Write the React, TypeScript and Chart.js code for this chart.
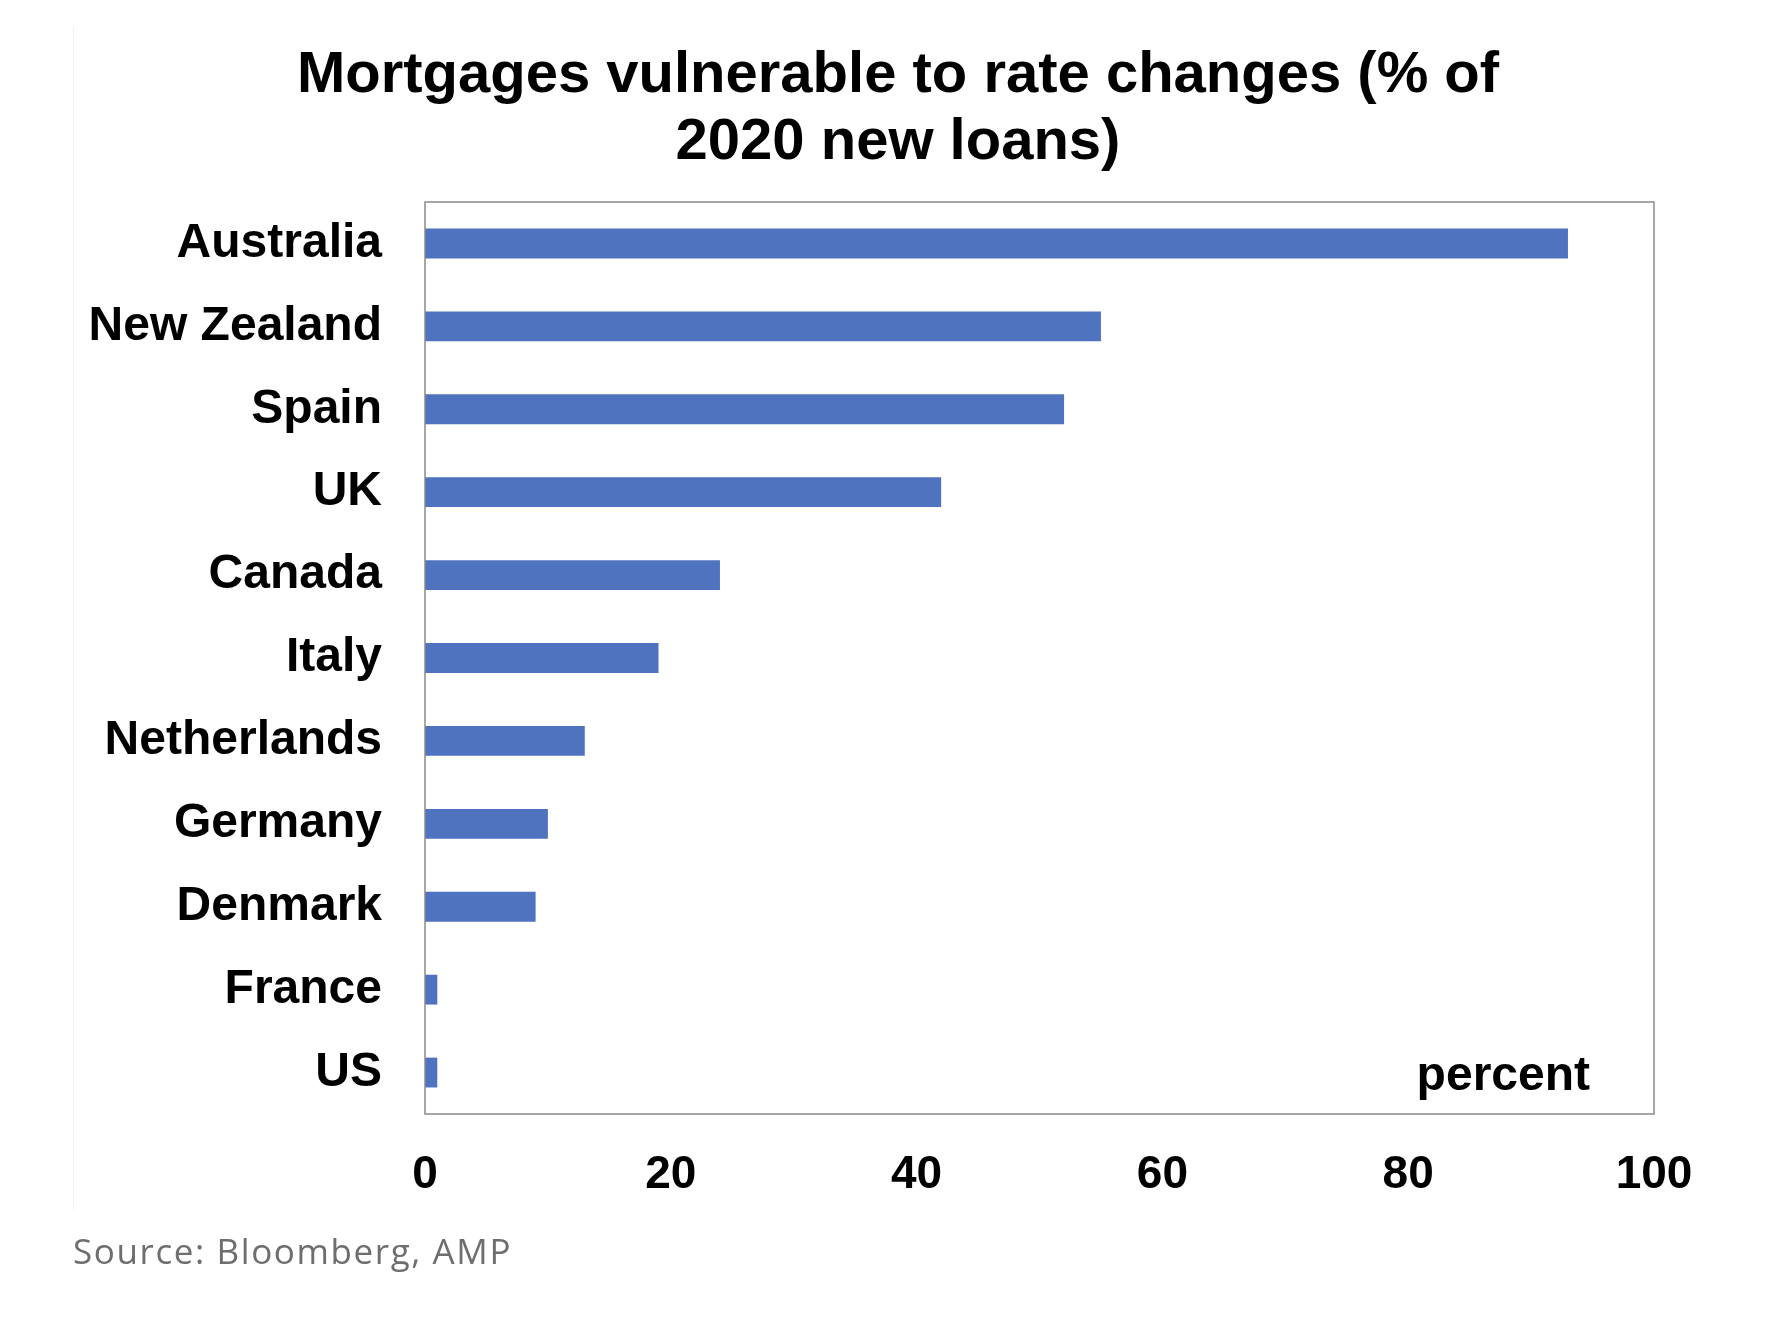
import React, { useEffect, useRef } from "react";
import { Chart, registerables } from "chart.js";

Chart.register(...registerables);

const categories = [
  "Australia",
  "New Zealand",
  "Spain",
  "UK",
  "Canada",
  "Italy",
  "Netherlands",
  "Germany",
  "Denmark",
  "France",
  "US",
];
const values = [93, 55, 52, 42, 24, 19, 13, 10, 9, 1, 1];
const xTicks = [0, 20, 40, 60, 80, 100];
const titleLines = ["Mortgages vulnerable to rate changes (% of", "2020 new loans)"];
const unitLabel = "percent";
const sourceText = "Source: Bloomberg, AMP";

const FONT = "'Liberation Sans', Arial, Helvetica, sans-serif";

export default function App() {
  const ref = useRef<HTMLCanvasElement | null>(null);

  useEffect(() => {
    if (!ref.current) return;
    const framePlugin = {
      id: "frameAndUnit",
      afterDatasetsDraw(chart: any) {
        const { ctx, chartArea } = chart;
        ctx.save();
        ctx.strokeStyle = "#8a8a8a";
        ctx.lineWidth = 1.5;
        ctx.strokeRect(chartArea.left, chartArea.top, chartArea.right - chartArea.left, chartArea.bottom - chartArea.top);
        ctx.fillStyle = "#000";
        ctx.font = `bold 48px ${FONT}`;
        ctx.textAlign = "right";
        ctx.textBaseline = "alphabetic";
        ctx.fillText(unitLabel, chartArea.right - 64, chartArea.bottom - 24);
        ctx.restore();
      },
    };
    const chart = new Chart(ref.current, {
      type: "bar",
      data: {
        labels: categories,
        datasets: [
          {
            data: values,
            backgroundColor: "#4f73bf",
            borderWidth: 0,
            barPercentage: 0.36,
            categoryPercentage: 1,
          },
        ],
      },
      options: {
        indexAxis: "y",
        responsive: false,
        animation: false,
        devicePixelRatio: 1,
        layout: { padding: { left: 0, right: 120, top: 202, bottom: 130 } },
        plugins: {
          legend: { display: false },
          tooltip: { enabled: false },
          title: { display: false },
        },
        scales: {
          x: {
            type: "linear",
            min: 0,
            max: 100,
            afterBuildTicks: (s: any) => {
              s.ticks = xTicks.map((v) => ({ value: v }));
            },
            afterFit: (s: any) => {
              s.height = 100;
            },
            grid: { display: false, drawTicks: false },
            border: { display: false },
            ticks: {
              color: "#000",
              padding: 34,
              maxRotation: 0,
              font: { family: FONT, size: 46, weight: "bold" },
            },
          },
          y: {
            type: "category",
            afterFit: (s: any) => {
              s.width = 425;
            },
            grid: { display: false, drawTicks: false },
            border: { display: false },
            ticks: {
              color: "#000",
              padding: 43,
              autoSkip: false,
              font: { family: FONT, size: 48, weight: "bold" },
            },
          },
        },
      },
      plugins: [framePlugin],
    } as any);
    return () => chart.destroy();
  }, []);

  return (
    <div style={{ position: "absolute", left: 0, top: 0, width: 1774, height: 1344, background: "#fff", overflow: "hidden" }}>
      <div style={{ position: "absolute", left: 73, top: 26, width: 1, height: 1184, background: "#f3f3f3" }} />
      <canvas ref={ref} width={1774} height={1344} style={{ position: "absolute", left: 0, top: 0, width: 1774, height: 1344 }} />
      <div
        style={{
          position: "absolute",
          left: 0,
          top: 38,
          width: 1796,
          textAlign: "center",
          fontFamily: FONT,
          fontWeight: "bold",
          fontSize: 58,
          lineHeight: "67px",
          color: "#000",
          whiteSpace: "nowrap",
        }}
      >
        {titleLines.map((l, i) => (
          <div key={i}>{l}</div>
        ))}
      </div>
      <div
        style={{
          position: "absolute",
          left: 73,
          top: 1250,
          transform: "translateY(-50%)",
          fontFamily: "'Open Sans', sans-serif",
          fontSize: 35,
          letterSpacing: 1.6,
          color: "#6e6e6e",
          whiteSpace: "nowrap",
          lineHeight: 1,
        }}
      >
        {sourceText}
      </div>
    </div>
  );
}
